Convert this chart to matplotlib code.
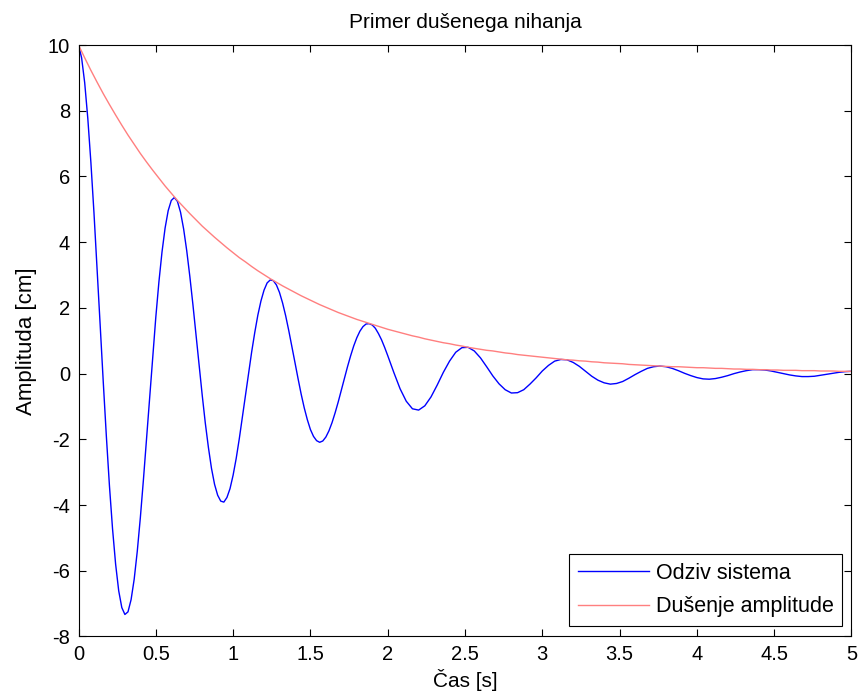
import matplotlib
matplotlib.use("Agg")
import matplotlib.pyplot as plt
import numpy as np

# system response:
# every 0.02 s from 0 to 2 s, then every 0.04 s up to 5 s
response_fine = [
    10.00, 9.61, 8.85, 7.77, 6.43, 4.89, 3.21, 1.48, -0.25, -1.90,
    -3.41, -4.72, -5.80, -6.61, -7.12, -7.33, -7.25, -6.88, -6.26, -5.41,
    -4.38, -3.22, -1.98, -0.71, 0.54, 1.72, 2.79, 3.70, 4.43, 4.96,
    5.27, 5.36, 5.24, 4.91, 4.40, 3.74, 2.96, 2.10, 1.18, 0.25,
    -0.65, -1.50, -2.24, -2.88, -3.37, -3.70, -3.88, -3.91, -3.77, -3.50,
    -3.09, -2.58, -1.98, -1.32, -0.66, 0.01, 0.66, 1.25, 1.78, 2.21,
    2.54, 2.76, 2.85, 2.83, 2.70, 2.47, 2.15, 1.76, 1.31, 0.83,
    0.34, -0.15, -0.62, -1.04, -1.40, -1.70, -1.91, -2.04, -2.09, -2.05,
    -1.93, -1.74, -1.49, -1.19, -0.86, -0.50, -0.14, 0.21, 0.54, 0.84,
    1.09, 1.29, 1.43, 1.51, 1.52, 1.48, 1.38, 1.22, 1.03, 0.80,
    0.55,
]
response_coarse = [
    0.03, -0.46, -0.84, -1.07, -1.11, -0.98, -0.71, -0.35, 0.04,
    0.38, 0.65, 0.79, 0.80, 0.69, 0.48, 0.21, -0.07, -0.31, -0.49,
    -0.59, -0.58, -0.49, -0.32, -0.13, 0.08, 0.25, 0.38, 0.43, 0.42,
    0.34, 0.22, 0.07, -0.08, -0.20, -0.28, -0.32, -0.30, -0.24, -0.14,
    -0.03, 0.07, 0.16, 0.21, 0.23, 0.21, 0.16, 0.09, 0.01, -0.06,
    -0.12, -0.16, -0.17, -0.15, -0.11, -0.06, 0.00, 0.05, 0.09, 0.12,
    0.12, 0.11, 0.08, 0.04, 0.00, -0.04, -0.07, -0.09, -0.09, -0.08,
    -0.05, -0.02, 0.01, 0.04, 0.06, 0.07,
]
# amplitude envelope, every 0.04 s from 0 to 5 s
envelope = [
    10.00, 9.61, 9.23, 8.87, 8.52, 8.19, 7.87, 7.56, 7.26, 6.98,
    6.70, 6.44, 6.19, 5.95, 5.71, 5.49, 5.27, 5.07, 4.87, 4.68,
    4.49, 4.32, 4.15, 3.99, 3.83, 3.68, 3.53, 3.40, 3.26, 3.13,
    3.01, 2.89, 2.78, 2.67, 2.57, 2.47, 2.37, 2.28, 2.19, 2.10,
    2.02, 1.94, 1.86, 1.79, 1.72, 1.65, 1.59, 1.53, 1.47, 1.41,
    1.35, 1.30, 1.25, 1.20, 1.15, 1.11, 1.06, 1.02, 0.98, 0.94,
    0.91, 0.87, 0.84, 0.80, 0.77, 0.74, 0.71, 0.69, 0.66, 0.63,
    0.61, 0.58, 0.56, 0.54, 0.52, 0.50, 0.48, 0.46, 0.44, 0.42,
    0.41, 0.39, 0.38, 0.36, 0.35, 0.33, 0.32, 0.31, 0.30, 0.28,
    0.27, 0.26, 0.25, 0.24, 0.23, 0.22, 0.21, 0.21, 0.20, 0.19,
    0.18, 0.18, 0.17, 0.16, 0.16, 0.15, 0.14, 0.14, 0.13, 0.13,
    0.12, 0.12, 0.11, 0.11, 0.10, 0.10, 0.10, 0.09, 0.09, 0.09,
    0.08, 0.08, 0.08, 0.07, 0.07, 0.07,
]
x_ticks = [0, 0.5, 1, 1.5, 2, 2.5, 3, 3.5, 4, 4.5, 5]
x_labels = ["0", "0.5", "1", "1.5", "2", "2.5", "3", "3.5", "4", "4.5", "5"]
y_ticks = [-8, -6, -4, -2, 0, 2, 4, 6, 8, 10]

t_resp = np.concatenate([np.linspace(0, 2, len(response_fine)),
                         np.linspace(2.04, 5, len(response_coarse))])
response = response_fine + response_coarse
t_env = np.linspace(0, 5, len(envelope))

plt.rcParams['font.family'] = ['Liberation Sans', 'DejaVu Sans']
plt.rcParams['axes.unicode_minus'] = False

fig = plt.figure(figsize=(8.6, 6.96), dpi=100)
ax = fig.add_axes([0.0913, 0.0855, 0.8988, 0.8498])

ax.plot(t_resp, response, color='#0000ff', linewidth=1.0, label='Odziv sistema')
ax.plot(t_env, envelope, color='#ff7f7f', linewidth=1.0, label='Dušenje amplitude')

ax.set_xlim(0, 5)
ax.set_ylim(-8, 10)
ax.set_xticks(x_ticks)
ax.set_xticklabels(x_labels)
ax.set_yticks(y_ticks)
ax.tick_params(direction='in', top=True, right=True, length=5, width=0.8,
               labelsize=14.5, pad=6)

for s in ax.spines.values():
    s.set_linewidth(0.8)

ax.set_title("Primer dušenega nihanja", fontsize=15, pad=12)
ax.set_xlabel("Čas [s]", fontsize=15, labelpad=4)
ax.set_ylabel("Amplituda [cm]", fontsize=16, labelpad=8)

leg = ax.legend(loc='lower right', bbox_to_anchor=(0.9791, 0.1006),
                bbox_transform=fig.transFigure, borderaxespad=0,
                fontsize=15.5, fancybox=False, framealpha=1, edgecolor='black',
                handlelength=3.3, handletextpad=0.3, borderpad=0.4,
                labelspacing=0.58)
leg.get_frame().set_linewidth(0.8)

fig.savefig("out.png", dpi=100, facecolor='white')
